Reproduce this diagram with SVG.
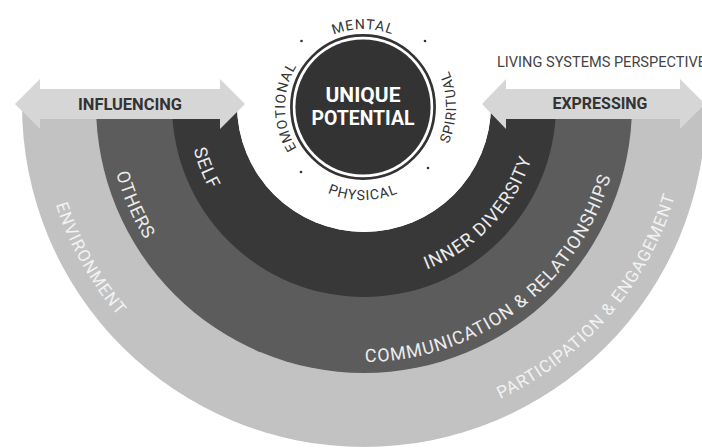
<svg xmlns="http://www.w3.org/2000/svg" width="702" height="448" viewBox="0 0 702 448">
<style>
.lbl{font-family:Roboto,"Liberation Sans",sans-serif;}
.band{font-size:18px;fill:#ececec;letter-spacing:1px;}
.outer{font-size:17px;fill:#f2f2f2;letter-spacing:1px;}
.ring{font-size:14px;fill:#333;letter-spacing:1px;}
.arrowtxt{font-size:17px;font-weight:bold;fill:#333;text-anchor:middle;}
.arrow{fill:#d6d6d6;}
</style>
<defs>
<path id="pSelf" d="M 188 105 A 176 176 0 0 0 540 105"/>
<path id="pOthers" d="M 107 105 A 257 257 0 0 0 621 105"/>
<path id="pEnv" d="M 40 105 A 324 324 0 0 0 688 105"/>
<path id="pCw" d="M 285 107 A 78 78 0 0 1 441 107"/>
<path id="pCwL" d="M 363 185 A 78 78 0 0 1 363 29"/>
<path id="pCcw" d="M 270 107 A 93 93 0 0 0 456 107"/>
<path id="pCcwR" d="M 363 200 A 93 93 0 0 0 363 14"/>
</defs>
<rect width="702" height="448" fill="#fff"/>
<g id="environment">
<path d="M 22 105 A 342 342 0 0 0 706 105 Z" fill="#c2c2c2"/>
</g>
<g id="others">
<path d="M 96 105 A 268 268 0 0 0 632 105 Z" fill="#5c5c5c"/>
</g>
<g id="self">
<path d="M 172 105 A 192 192 0 0 0 556 105 Z" fill="#383838"/>
<path d="M 237 105 A 127 127 0 0 0 491 105 Z" fill="#fff"/>
<circle cx="364" cy="105" r="127" fill="#fff"/>
</g>
<g id="band-labels" class="lbl">
<text class="band"><textPath href="#pSelf" startOffset="12.1%" text-anchor="middle">SELF</textPath></text>
<text class="band"><textPath href="#pSelf" startOffset="75.9%" text-anchor="middle">INNER DIVERSITY</textPath></text>
<text class="band"><textPath href="#pOthers" startOffset="13.1%" text-anchor="middle">OTHERS</textPath></text>
<text class="band"><textPath href="#pOthers" startOffset="70.6%" text-anchor="middle">COMMUNICATION &amp; RELATIONSHIPS</textPath></text>
<text class="outer"><textPath href="#pEnv" startOffset="16.3%" text-anchor="middle">ENVIRONMENT</textPath></text>
<text class="outer"><textPath href="#pEnv" startOffset="77.4%" text-anchor="middle">PARTICIPATION &amp; ENGAGEMENT</textPath></text>
</g>
<g id="unique-potential">
<circle cx="363" cy="107" r="71.6" fill="none" stroke="#333" stroke-width="2.7"/>
<circle cx="363" cy="107" r="67.6" fill="#333"/>
<text class="lbl" x="363" y="101.5" font-size="21" font-weight="bold" fill="#fff" text-anchor="middle">UNIQUE</text>
<text class="lbl" x="363" y="125" font-size="21" font-weight="bold" fill="#fff" text-anchor="middle" textLength="103" lengthAdjust="spacingAndGlyphs">POTENTIAL</text>
</g>
<g id="dimensions" class="lbl">
<text class="ring"><textPath href="#pCw" startOffset="50%" text-anchor="middle">MENTAL</textPath></text>
<text class="ring"><textPath href="#pCwL" startOffset="50%" text-anchor="middle">EMOTIONAL</textPath></text>
<text class="ring"><textPath href="#pCcw" startOffset="50%" text-anchor="middle">PHYSICAL</textPath></text>
<text class="ring"><textPath href="#pCcwR" startOffset="50%" text-anchor="middle">SPIRITUAL</textPath></text>
<g fill="#333">
<circle cx="301.5" cy="41" r="1.3"/>
<circle cx="425" cy="41" r="1.3"/>
<circle cx="301" cy="172" r="1.3"/>
<circle cx="428" cy="168" r="1.3"/>
</g>
</g>
<g id="arrows">
<g id="influencing">
<path class="arrow" d="M 15 104 L 40 79 L 40 89 L 220 89 L 220 79 L 245 104 L 220 129 L 220 119 L 40 119 L 40 129 Z"/>
<text class="lbl arrowtxt" x="130" y="109.5" textLength="104" lengthAdjust="spacingAndGlyphs">INFLUENCING</text>
</g>
<g id="expressing">
<path class="arrow" d="M 482 104 L 506 79 L 506 89 L 680 89 L 680 79 L 705 104 L 680 129 L 680 119 L 506 119 L 506 129 Z"/>
<text class="lbl arrowtxt" x="600" y="109" textLength="95" lengthAdjust="spacingAndGlyphs">EXPRESSING</text>
</g>
</g>
<g id="title">
<text class="lbl" x="497" y="67" font-size="14" fill="#444" textLength="209" lengthAdjust="spacingAndGlyphs">LIVING SYSTEMS PERSPECTIVE</text>
</g>
</svg>
